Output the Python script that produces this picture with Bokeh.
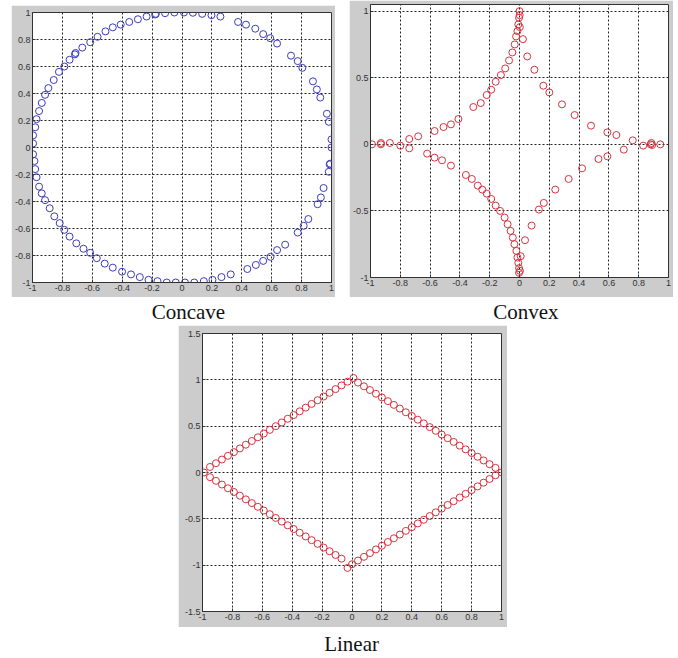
from bokeh.plotting import figure
from bokeh.models import Range1d, FixedTicker, Spacer
from bokeh.layouts import row, column
from bokeh.core.properties import value
from bokeh.embed import file_html
from bokeh.resources import INLINE

# ---------------- data ----------------
concave_x = [-0.996, -0.996, -0.982, -0.973, -0.956, -0.938, -0.916, -0.894, -0.858, -0.823,
             -0.787, -0.752, -0.716, -0.712, -0.667, -0.614, -0.565, -0.512, -0.463, -0.410,
             -0.353, -0.295, -0.237, -0.175, -0.180, -0.113, -0.051, 0.013, 0.073, 0.135,
             0.197, 0.257, 0.375, 0.428, 0.490, 0.543, 0.590, 0.636, 0.729, 0.774,
             0.805, 0.876, 0.902, 0.925, 0.969, 0.982, 1.000, 1.000, 0.991, 0.988,
             0.982, 0.947, 0.929, 0.907, 0.845, 0.814, 0.774, 0.690, 0.636, 0.592,
             0.543, 0.494, 0.437, 0.326, 0.264, 0.204, 0.146, 0.082, 0.020, -0.042,
             -0.102, -0.164, -0.224, -0.282, -0.341, -0.401, -0.463, -0.517, -0.570, -0.614,
             -0.659, -0.707, -0.752, -0.787, -0.818, -0.854, -0.885, -0.916, -0.938, -0.956,
             -0.973, -0.982, -0.987, -0.996]
concave_y = [0.03, 0.09, 0.15, 0.21, 0.27, 0.33, 0.39, 0.44, 0.50, 0.56,
             0.60, 0.65, 0.69, 0.70, 0.74, 0.78, 0.82, 0.86, 0.89, 0.91,
             0.93, 0.95, 0.97, 0.99, 0.985, 0.995, 1.0, 1.0, 0.998, 0.99,
             0.98, 0.97, 0.93, 0.91, 0.88, 0.84, 0.81, 0.77, 0.68, 0.64,
             0.59, 0.49, 0.43, 0.37, 0.25, 0.19, 0.06, 0.0, -0.12, -0.125,
             -0.18, -0.30, -0.37, -0.42, -0.53, -0.58, -0.63, -0.72, -0.76, -0.81,
             -0.84, -0.87, -0.90, -0.94, -0.96, -0.98, -0.99, -1.0, -1.0, -1.0,
             -1.0, -0.99, -0.98, -0.96, -0.94, -0.92, -0.89, -0.86, -0.82, -0.78,
             -0.75, -0.71, -0.66, -0.61, -0.56, -0.51, -0.45, -0.39, -0.34, -0.29,
             -0.22, -0.16, -0.10, -0.05]

convex_x = [-0.99, -0.93, -0.93, -0.87, -0.74, -0.68, -0.57, -0.51, -0.46, -0.41,
            -0.31, -0.26, -0.22, -0.19, -0.16, -0.125, -0.096, -0.07, -0.048, -0.032,
            -0.023, -0.014, -0.008, -0.003, 0.0, 0.002, 0.001,
            -0.80, -0.74, -0.62, -0.57, -0.52, -0.46, -0.36, -0.32, -0.28, -0.25,
            -0.22, -0.19, -0.16, -0.13, -0.10, -0.08, -0.06, -0.045, -0.034, -0.021,
            -0.014, -0.008, -0.003, -0.003, 0.003,
            0.023, 0.052, 0.10, 0.16, 0.20, 0.285, 0.37, 0.48, 0.59, 0.65,
            0.76, 0.83, 0.88, 0.885, 0.945,
            0.008, 0.037, 0.081, 0.13, 0.163, 0.24, 0.33, 0.42, 0.53, 0.59,
            0.70, 0.89]
convex_y = [0.0, 0.0, 0.01, 0.01, 0.04, 0.06, 0.10, 0.13, 0.15, 0.19,
            0.28, 0.31, 0.37, 0.41, 0.47, 0.52, 0.57, 0.63, 0.69, 0.75,
            0.81, 0.85, 0.90, 0.95, 1.0, 0.88, 0.97,
            -0.01, -0.03, -0.07, -0.10, -0.12, -0.16, -0.23, -0.26, -0.31, -0.34,
            -0.37, -0.41, -0.46, -0.50, -0.55, -0.60, -0.65, -0.70, -0.75, -0.80,
            -0.85, -0.89, -0.93, -0.965, -0.95,
            0.79, 0.66, 0.56, 0.44, 0.39, 0.30, 0.22, 0.14, 0.09, 0.07,
            0.03, -0.01, 0.0, 0.01, 0.0,
            -0.84, -0.72, -0.61, -0.49, -0.44, -0.34, -0.26, -0.18, -0.11, -0.09,
            -0.04, -0.005]

linear_x = [-0.99, -0.95, -0.91, -0.87, -0.83, -0.79, -0.75, -0.71, -0.67, -0.63,
            -0.59, -0.55, -0.51, -0.47, -0.43, -0.39, -0.35, -0.31, -0.27, -0.23,
            -0.19, -0.15, -0.11, -0.07, -0.03, 0.01,
            -0.95, -0.91, -0.87, -0.83, -0.79, -0.75, -0.71, -0.67, -0.63, -0.59,
            -0.55, -0.51, -0.47, -0.43, -0.39, -0.35, -0.31, -0.27, -0.23, -0.19,
            -0.15, -0.11, -0.07, -0.03,
            0.04, 0.08, 0.12, 0.16, 0.20, 0.24, 0.28, 0.32, 0.36, 0.40,
            0.44, 0.48, 0.52, 0.56, 0.60, 0.64, 0.68, 0.72, 0.76, 0.80,
            0.84, 0.88, 0.92, 0.96, 1.0,
            0.0, 0.04, 0.08, 0.12, 0.16, 0.20, 0.24, 0.28, 0.32, 0.36,
            0.40, 0.44, 0.48, 0.52, 0.56, 0.60, 0.64, 0.68, 0.72, 0.76,
            0.80, 0.84, 0.88, 0.92, 0.96]
linear_y = [0.0, 0.06, 0.10, 0.14, 0.18, 0.22, 0.26, 0.30, 0.34, 0.38,
            0.42, 0.46, 0.50, 0.54, 0.58, 0.62, 0.66, 0.70, 0.74, 0.78,
            0.82, 0.86, 0.90, 0.94, 0.98, 1.02,
            -0.05, -0.09, -0.13, -0.17, -0.21, -0.25, -0.29, -0.33, -0.37, -0.41,
            -0.45, -0.49, -0.53, -0.57, -0.61, -0.65, -0.69, -0.73, -0.77, -0.81,
            -0.85, -0.89, -0.93, -1.03,
            0.97, 0.93, 0.89, 0.85, 0.81, 0.77, 0.73, 0.69, 0.65, 0.61,
            0.57, 0.53, 0.49, 0.45, 0.41, 0.37, 0.33, 0.29, 0.25, 0.21,
            0.17, 0.13, 0.09, 0.05, 0.0,
            -0.99, -0.95, -0.91, -0.87, -0.83, -0.79, -0.75, -0.71, -0.67, -0.63,
            -0.59, -0.55, -0.51, -0.47, -0.43, -0.39, -0.35, -0.31, -0.27, -0.23,
            -0.19, -0.15, -0.11, -0.07, -0.03]

x_ticks = [-1, -0.8, -0.6, -0.4, -0.2, 0, 0.2, 0.4, 0.6, 0.8, 1]
x_tick_labels = ["-1", "-0.8", "-0.6", "-0.4", "-0.2", "0", "0.2", "0.4", "0.6", "0.8", "1"]
y_ticks_fine = x_ticks
y_tick_labels_fine = x_tick_labels
y_ticks_convex = [-1, -0.5, 0, 0.5, 1]
y_tick_labels_convex = ["-1", "-0.5", "0", "0.5", "1"]
y_ticks_linear = [-1.5, -1, -0.5, 0, 0.5, 1, 1.5]
y_tick_labels_linear = ["-1.5", "-1", "-0.5", "0", "0.5", "1", "1.5"]

captions = ["Concave", "Convex", "Linear"]

GREY = "#cccccc"
BLUE = "#3b3bbd"
RED = "#d9323f"


def panel(w, h, yr, yt, ytl, xs, ys, color, mb):
    left, right, top, bottom = mb
    p = figure(width=w, height=h, x_range=Range1d(-1, 1), y_range=Range1d(*yr),
               output_backend="svg", toolbar_location=None,
               min_border_left=left, min_border_right=right,
               min_border_top=top, min_border_bottom=bottom,
               border_fill_color=GREY, background_fill_color="white",
               outline_line_color="#333333", outline_line_width=1)
    p.xaxis.ticker = FixedTicker(ticks=x_ticks)
    p.xaxis.major_label_overrides = dict(zip(x_ticks, x_tick_labels))
    p.yaxis.ticker = FixedTicker(ticks=yt)
    p.yaxis.major_label_overrides = dict(zip(yt, ytl))
    for ax in (p.xaxis[0], p.yaxis[0]):
        ax.axis_line_color = "#333333"
        ax.major_tick_in = 3
        ax.major_tick_out = 0
        ax.major_tick_line_color = "#333333"
        ax.minor_tick_line_color = None
        ax.major_label_standoff = 2
        ax.major_label_text_font = "Liberation Sans"
        ax.major_label_text_font_size = "9px"
        ax.major_label_text_color = "#333333"
    p.xgrid.ticker = FixedTicker(ticks=x_ticks)
    p.ygrid.ticker = FixedTicker(ticks=yt)
    for g in (p.xgrid[0], p.ygrid[0]):
        g.grid_line_color = "#222222"
        g.grid_line_dash = "2 2"
        g.grid_line_width = 1
    p.scatter(xs, ys, marker="circle", size=7, fill_color=None,
              line_color=color, line_width=1)
    return p


def caption(w, h, cx, cy, text):
    c = figure(width=w, height=h, x_range=Range1d(0, w), y_range=Range1d(0, h),
               x_axis_type=None, y_axis_type=None, output_backend="svg",
               toolbar_location=None, min_border=0, outline_line_color=None,
               background_fill_color="white", border_fill_color="white")
    c.grid.visible = False
    c.text(x=[cx], y=[h - cy], text=[text], text_font=value("Liberation Serif"),
           text_font_size="21px", text_align="center", text_baseline="middle",
           text_color="#111111")
    return c


p1 = panel(324, 292, (-1, 1), y_ticks_fine, y_tick_labels_fine,
           concave_x, concave_y, BLUE, (18, 4, 7, 15))
p2 = panel(324, 297, (-1, 1.05), y_ticks_convex, y_tick_labels_convex,
           convex_x, convex_y, RED, (18, 5, 4, 20))
p3 = panel(329, 302, (-1.5, 1.5), y_ticks_linear, y_tick_labels_linear,
           linear_x, linear_y, RED, (24, 6, 8, 16))

c1 = caption(324, 28, 169, 14, captions[0])
c2 = caption(324, 28, 169, 14, captions[1])
c3 = caption(329, 31, 164, 16, captions[2])

row1 = row(Spacer(width=11, height=325),
           column(Spacer(width=324, height=5), p1, c1),
           Spacer(width=14, height=325),
           column(p2, c2))
row2 = row(Spacer(width=178, height=333), column(p3, c3))
layout = column(row1, row2)

open("out.html", "w").write(file_html(layout, INLINE))
